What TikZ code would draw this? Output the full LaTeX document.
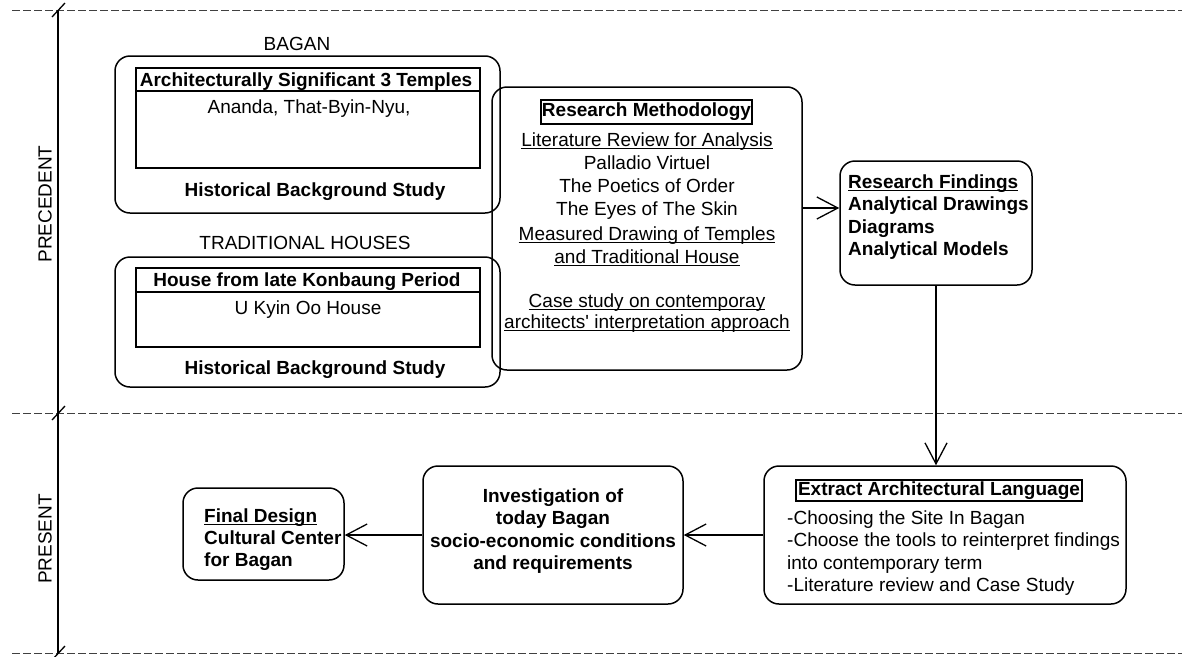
\documentclass[tikz,border=0pt]{standalone}
\usepackage{fontspec}
\setmainfont{Liberation Sans}
\usetikzlibrary{arrows.meta}
\newcommand\ulin[1]{\setbox0=\hbox{#1}\rlap{\rule[-3.2pt]{\wd0}{1.1pt}}\box0}
\newcommand\straightquote{\XeTeXglyph\XeTeXcharglyph"27\relax}
\begin{document}
\begin{tikzpicture}[x=1pt,y=-1pt,
  rbox/.style={draw, line width=1.5pt, rounded corners=15pt, inner sep=0pt},
  sbox/.style={draw, line width=1.1pt, inner sep=0pt},
  lbl/.style={inner sep=0pt, font=\fontsize{19}{23}\selectfont},
  lblb/.style={inner sep=0pt, font=\fontsize{19}{22.5}\selectfont\bfseries},
  lbln/.style={inner sep=0pt, font=\fontsize{19}{22.5}\selectfont},
  arr/.style={line width=1.3pt, -{Straight Barb[length=21pt,width=22pt]}},
  sep/.style={line width=1pt, dash pattern=on 8pt off 3pt, black!75},
  axis/.style={line width=1.5pt},
  tick/.style={line width=1.3pt}]
\useasboundingbox (0,0) rectangle (1190,656);

% separators and time axis
\draw[sep] (12,10) -- (1182,10);
\draw[sep] (12,413) -- (1182,413);
\draw[sep] (12,653) -- (1182,653);
\draw[axis] (58,10) -- (58,653);
\draw[tick] (52,17) -- (65,3);
\draw[tick] (52,420) -- (65,406);
\draw[tick] (52,660) -- (65,646);
\node[lbl, rotate=90] (lprec) at (45,204) {PRECEDENT};
\node[lbl, rotate=90] (lpres) at (45,539) {PRESENT};

% Bagan group
\node[lbl, anchor=base] (lbagan) at (297,50) {BAGAN};
\node[rbox, minimum width=385pt, minimum height=157pt] (bagan) at (307.5,134.5) {};
\node[sbox, minimum width=344pt, minimum height=100pt] (temples) at (308,118) {};
\draw[line width=1.1pt] (136,91) -- (480,91);
\node[lblb, anchor=base] (tmphead) at (306,86) {Architecturally Significant 3 Temples};
\node[lbln, anchor=base] (tmpnames) at (309,113) {Ananda, That-Byin-Nyu,};
\node[lblb, anchor=base] (hist1) at (315,196) {Historical Background Study};

% Traditional houses group
\node[lbl, anchor=base] (ltrad) at (305,249) {TRADITIONAL HOUSES};
\node[rbox, minimum width=385pt, minimum height=130pt] (trad) at (307.5,322) {};
\node[sbox, minimum width=344pt, minimum height=79pt] (house) at (308,307.5) {};
\draw[line width=1.1pt] (136,292) -- (480,292);
\node[lblb, anchor=base] (househead) at (307,286) {House from late Konbaung Period};
\node[lbln, anchor=base] (housename) at (308,314) {U Kyin Oo House};
\node[lblb, anchor=base] (hist2) at (315,374) {Historical Background Study};

% Research methodology
\node[rbox, minimum width=310pt, minimum height=283pt] (rm) at (647,228.5) {};
\node[sbox, minimum width=211pt, minimum height=24pt, font=\fontsize{19}{23}\selectfont\bfseries] (rmtitle) at (646.5,112) {Research Methodology};
\node[lbl, anchor=base] (rmtxt) at (647,146) {\begin{tabular}[t]{@{}c@{}}\ulin{Literature Review for Analysis}\\ Palladio Virtuel\\ The Poetics of Order\\ The Eyes of The Skin\\[2pt] \ulin{Measured Drawing of Temples}\\ \ulin{and Traditional House}\\[21pt] \ulin{Case study on contemporay}\\[-2pt] \ulin{architects\straightquote\ interpretation approach}\end{tabular}};

% Research findings
\node[rbox, minimum width=192pt, minimum height=124pt] (rf) at (936,223) {};
\node[lblb, anchor=base west] (rftxt) at (848,188) {\begin{tabular}[t]{@{}l@{}}\ulin{Research Findings}\\ Analytical Drawings\\ Diagrams\\ Analytical Models\end{tabular}};

% Extract architectural language
\node[rbox, minimum width=362pt, minimum height=138pt] (ex) at (945,535) {};
\node[sbox, minimum width=286pt, minimum height=21pt, font=\fontsize{19}{23}\selectfont\bfseries] (extitle) at (939,490.5) {Extract Architectural Language};
\node[lbln, anchor=base west] (extxt) at (787,524) {\begin{tabular}[t]{@{}l@{}}-Choosing the Site In Bagan\\ -Choose the tools to reinterpret findings\\ into contemporary term\\ -Literature review and Case Study\end{tabular}};

% Investigation
\node[rbox, minimum width=260pt, minimum height=138pt] (inv) at (553,535) {};
\node[lblb, anchor=base] (invtxt) at (553,502) {\begin{tabular}[t]{@{}c@{}}Investigation of\\ today Bagan\\ socio-economic conditions\\ and requirements\end{tabular}};

% Final design
\node[rbox, minimum width=161pt, minimum height=92pt] (fin) at (263.5,534) {};
\node[lblb, anchor=base west, font=\fontsize{19}{22}\selectfont\bfseries] (fintxt) at (204,522) {\begin{tabular}[t]{@{}l@{}}\ulin{Final Design}\\ Cultural Center\\ for Bagan\end{tabular}};

% connectors
\coordinate (a1) at (0,208);
\draw[arr] (rm.east |- a1) -- (rf.west |- a1);
\draw[arr] (rf.south) -- (rf.south |- ex.north);
\draw[arr] (ex.west) -- (inv.east);
\draw[arr] (inv.west) -- (fin.east |- inv.west);
\end{tikzpicture}
\end{document}
